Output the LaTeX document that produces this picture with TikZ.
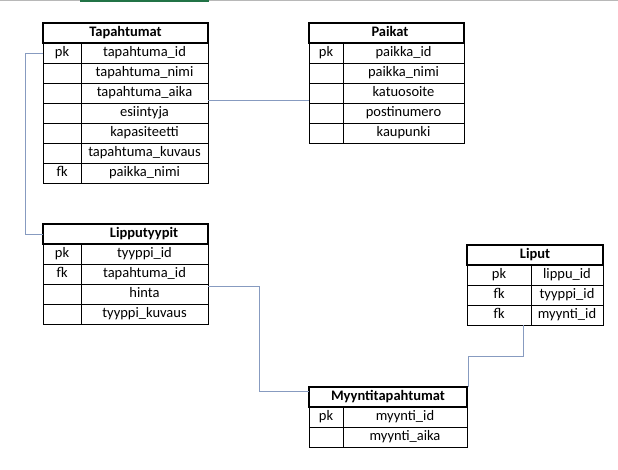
\documentclass[tikz,border=0pt]{standalone}
\usepackage{fontspec}
\setmainfont{Carlito}
\definecolor{conn}{RGB}{135,155,192}
\definecolor{xlgreen}{RGB}{33,115,70}
\tikzset{
  cell/.style={draw=black, line width=0.8pt, rectangle, anchor=north west,
    inner sep=0pt, outer sep=0pt, minimum height=20pt,
    text height=10pt, text depth=3.5pt,
    font=\fontsize{14.5}{16}\selectfont},
  hdrbox/.style={draw=black, line width=1.8pt, rectangle, anchor=north west,
    inner sep=0pt, outer sep=0pt, minimum height=20pt},
  hdrtxt/.style={inner sep=0pt, text height=10pt, text depth=3.5pt,
    font=\fontsize{14.5}{16}\selectfont\bfseries},
  link/.style={draw=conn, line width=0.9pt}
}
% #1 name, #2 left, #3 top, #4 divider, #5 right, #6 header, #7 header text x, #8 rows
\newcommand\erdtable[8]{%
  \foreach \k/\v [count=\i] in {#8} {
    \node[cell, minimum width={(#4-#2)*1pt}] (#1-k\i) at (#2,{#3+20+(\i-1)*20}) {\k};
    \node[cell, minimum width={(#5-#4)*1pt}] (#1-v\i) at (#4,{#3+20+(\i-1)*20}) {\v};
  }
  \node[hdrbox, minimum width={(#5-#2)*1pt}] (#1-h) at (#2,#3) {};
  \node[hdrtxt] (#1-ht) at (#7,{#3+10}) {#6};
}
\begin{document}
\begin{tikzpicture}[x=1pt,y=-1pt]
\useasboundingbox (0,0) rectangle (618,469);
\fill[black!28] (0,0) rectangle (618,1.3);
\fill[xlgreen] (80,0) rectangle (209,1.8);

\erdtable{T}{43}{23}{81}{208}{Tapahtumat}{125.5}{pk/tapahtuma\_id, /tapahtuma\_nimi, /tapahtuma\_aika, /esiintyja, /kapasiteetti, /tapahtuma\_kuvaus, fk/paikka\_nimi}
\erdtable{P}{309}{23}{343}{464}{Paikat}{390}{pk/paikka\_id, /paikka\_nimi, /katuosoite, /postinumero, /kaupunki}
\erdtable{L}{43}{224}{81}{208}{Lipputyypit}{144}{pk/tyyppi\_id, fk/tapahtuma\_id, /hinta, /tyyppi\_kuvaus}
\erdtable{Li}{467}{245}{531}{603}{Liput}{535}{pk/lippu\_id, fk/tyyppi\_id, fk/myynti\_id}
\erdtable{M}{309}{387}{343}{467}{Myyntitapahtumat}{388}{pk/myynti\_id, /myynti\_aika}

\draw[link] (T-k1.west) -- ++(-18,0) |- ([yshift=-10pt]L-h.north west);
\draw[link] ([yshift=-7pt]T-v3.east) -- ([yshift=-7pt]P-k3.west);
\draw[link] ([yshift=-2.5pt]L-v3.north east) -- ++(51,0) |- ([yshift=-4pt]M-h.north west);
\draw[link] ([xshift=-8pt]Li-k3.south east) -- ++(0,31) -| ([xshift=1.5pt]M-h.north east);
\end{tikzpicture}
\end{document}
